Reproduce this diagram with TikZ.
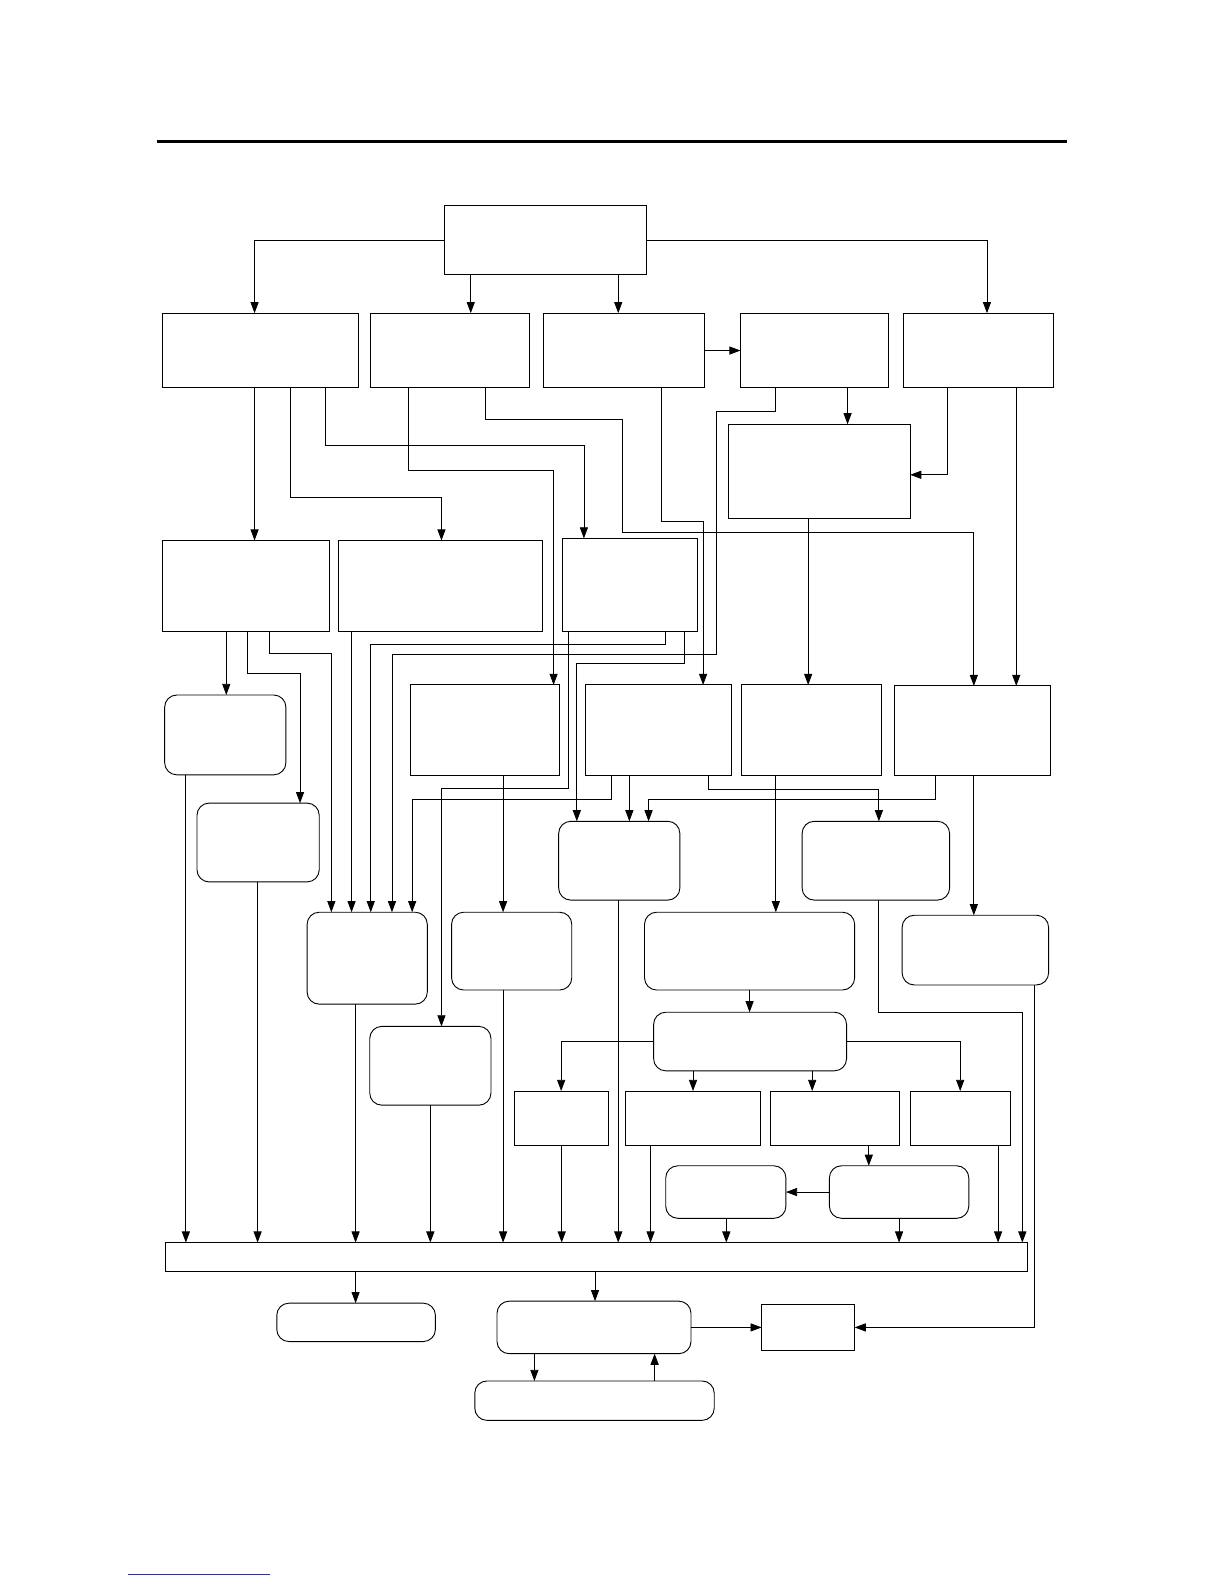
\documentclass[tikz,border=0pt]{standalone}
\usepackage{tikz}
\usetikzlibrary{arrows.meta,positioning,calc}
\usepackage{xcolor}
\definecolor{linkblue}{RGB}{40,40,220}
\tikzset{
  blk/.style={draw=black,fill=white,line width=.9pt,inner sep=0pt,outer sep=0pt},
  rbox/.style={blk,rounded corners=12pt},
  flow/.style={-{Triangle[length=11pt,width=8pt]},draw=black,line width=.8pt},
  rule/.style={draw=black,line width=3pt},
}

\begin{document}
\begin{tikzpicture}[x=1pt,y=-1pt]
  \useasboundingbox (0,0) rectangle (1212,1568);
  \draw[rule] (155,140) -- (1056,140);
  \draw[linkblue,line width=.8pt] (127,1558) -- (267,1558);
  % ---------------- top ----------------
  \node[blk,minimum width=200pt,minimum height=69pt] (top) at (540,237.5) {};
  % ---------------- row 1 ----------------
  \node[blk,minimum width=194pt,minimum height=74pt] (rA) at (258,347)   {};
  \node[blk,minimum width=157pt,minimum height=74pt] (rB) at (445.5,347) {};
  \node[blk,minimum width=159pt,minimum height=74pt] (rC) at (617.5,347) {};
  \node[blk,minimum width=146pt,minimum height=74pt] (rD) at (806,347)   {};
  \node[blk,minimum width=149pt,minimum height=74pt] (rE) at (968.5,347) {};
  \node[blk,minimum width=180pt,minimum height=93pt] (mid) at (811,466.5) {};
  % ---------------- row 2 ----------------
  \node[blk,minimum width=165pt,minimum height=90pt] (sA) at (243.5,580) {};
  \node[blk,minimum width=202pt,minimum height=90pt] (sB) at (436,580)   {};
  \node[blk,minimum width=133pt,minimum height=92pt] (sC) at (623.5,579) {};
  % ---------------- row 3 ----------------
  \node[blk,minimum width=148pt,minimum height=90pt] (tA) at (480,723)   {};
  \node[blk,minimum width=144pt,minimum height=90pt] (tB) at (652,723)   {};
  \node[blk,minimum width=139pt,minimum height=90pt] (tC) at (803.5,723) {};
  \node[blk,minimum width=155pt,minimum height=89pt] (tD) at (962.5,723.5) {};
  % ---------------- rounded boxes ----------------
  \node[rbox,minimum width=120pt,minimum height=79pt] (uA) at (223,727.5) {};
  \node[rbox,minimum width=121pt,minimum height=78pt] (uB) at (255.5,834) {};
  \node[rbox,minimum width=120pt,minimum height=78pt] (uC) at (613,852)   {};
  \node[rbox,minimum width=146pt,minimum height=78pt] (uD) at (867,852)   {};
  \node[rbox,minimum width=119pt,minimum height=91pt] (vA) at (363.5,948.5) {};
  \node[rbox,minimum width=119pt,minimum height=77pt] (vB) at (506.5,941.5) {};
  \node[rbox,minimum width=208pt,minimum height=77pt] (vC) at (742,941.5)   {};
  \node[rbox,minimum width=145pt,minimum height=69pt] (vD) at (965.5,940.5) {};
  \node[rbox,minimum width=120pt,minimum height=78pt] (vE) at (426,1055)    {};
  \node[rbox,minimum width=191pt,minimum height=58pt] (hub) at (742.5,1031) {};
  % ---------------- hub children ----------------
  \node[blk,minimum width=93pt,minimum height=54pt]  (kA) at (555.5,1107) {};
  \node[blk,minimum width=134pt,minimum height=54pt] (kB) at (686,1107)   {};
  \node[blk,minimum width=127pt,minimum height=54pt] (kC) at (826.5,1107) {};
  \node[blk,minimum width=99pt,minimum height=54pt]  (kD) at (950.5,1107) {};
  \node[rbox,minimum width=119pt,minimum height=52pt] (lA) at (718.5,1180) {};
  \node[rbox,minimum width=138pt,minimum height=52pt] (lB) at (890,1180)   {};
  % ---------------- bus and bottom ----------------
  \node[blk,minimum width=853pt,minimum height=29pt] (bus) at (590.5,1244.5) {};
  \node[rbox,minimum width=157pt,minimum height=38pt] (outA) at (352.5,1309) {};
  \node[rbox,minimum width=192pt,minimum height=52pt] (outB) at (588,1314)   {};
  \node[blk,minimum width=92pt,minimum height=46pt]   (outC) at (800,1314)   {};
  \node[rbox,minimum width=237pt,minimum height=39pt] (loop) at (588.5,1386.5) {};
  % ---------------- top edges ----------------
  \draw[flow] (top.west) -| (252,0 |- rA.north);
  \draw[flow] (top.east) -| (977,0 |- rE.north);
  \draw[flow] (466,0 |- top.south) -- (466,0 |- rB.north);
  \draw[flow] (612,0 |- top.south) -- (612,0 |- rC.north);
  \draw[flow] (rC.east) -- (rD.west);
  \draw[flow] (839,0 |- rD.south) -- (839,0 |- mid.north);
  \draw[flow] (938,0 |- rE.south) |- (mid.east |- 0,470);
  % ---------------- row 1 to lower ----------------
  \draw[flow] (252,0 |- rA.south) -- (252,0 |- sA.north);
  \draw[flow] (287,0 |- rA.south) -- (287,492) -| (437,0 |- sB.north);
  \draw[flow] (322,0 |- rA.south) -- (322,441) -| (578,0 |- sC.north);
  \draw[flow] (404,0 |- rB.south) -- (404,466) -| (548,0 |- tA.north);
  \draw[flow] (480,0 |- rB.south) -- (480,415) -- (616,415) -- (616,527)
    -| (964,0 |- tD.north);
  \draw[flow] (655,0 |- rC.south) -- (655,516) -| (696,0 |- tB.north);
  \draw[flow] (768,0 |- rD.south) -- (768,407) -- (709,407) -- (709,648)
    -| (388,0 |- vA.north);
  \draw[flow] (800,0 |- mid.south) -- (800,0 |- tC.north);
  \draw[flow] (1006,0 |- rE.south) -- (1006,0 |- tD.north);
  % ---------------- row 2 to lower ----------------
  \draw[flow] (224,0 |- sA.south) -- (224,0 |- uA.north);
  \draw[flow] (245,0 |- sA.south) -- (245,667) -| (297,0 |- uB.north);
  \draw[flow] (267,0 |- sA.south) -- (267,647) -| (328,0 |- vA.north);
  \draw[flow] (348,0 |- sB.south) -- (348,0 |- vA.north);
  \draw[flow] (563,0 |- sC.south) -- (563,780) -| (437,0 |- vE.north);
  \draw[flow] (659,0 |- sC.south) -- (659,638) -| (367,0 |- vA.north);
  \draw[flow] (677,0 |- sC.south) -- (677,657) -| (571,0 |- uC.north);
  % ---------------- row 3 to lower ----------------
  \draw[flow] (498,0 |- tA.south) -- (498,0 |- vB.north);
  \draw[flow] (605,0 |- tB.south) -- (605,791) -| (408,0 |- vA.north);
  \draw[flow] (623,0 |- tB.south) -- (623,0 |- uC.north);
  \draw[flow] (701,0 |- tB.south) -- (701,781) -| (870,0 |- uD.north);
  \draw[flow] (768,0 |- tC.south) -- (768,0 |- vC.north);
  \draw[flow] (926,0 |- tD.south) -- (926,791) -| (642,0 |- uC.north);
  \draw[flow] (964,0 |- tD.south) -- (964,0 |- vD.north);
  % ---------------- hub ----------------
  \draw[flow] (vC.south) -- (vC.south |- hub.north);
  \draw[flow] (hub.west) -| (kA.north);
  \draw[flow] (hub.east) -| (kD.north);
  \draw[flow] (686,0 |- hub.south) -- (kB.north);
  \draw[flow] (804,0 |- hub.south) -- (804,0 |- kC.north);
  \draw[flow] (860,0 |- kC.south) -- (860,0 |- lB.north);
  \draw[flow] (lB.west) -- (lA.east);
  % ---------------- into bus ----------------
  \foreach \n/\x in {uA/184,uB/255,vA/352,vE/426,vB/498,kA/556,uC/612,
                     kB/644,lA/719,lB/890,kD/988}{
    \draw[flow] (\x,0 |- \n.south) -- (\x,0 |- bus.north);}
  \draw[flow] (870,0 |- uD.south) -- (870,1002) -| (1012,0 |- bus.north);
  \draw[flow] (1024,0 |- vD.south) |- (outC.east);
  % ---------------- bottom ----------------
  \draw[flow] (352,0 |- bus.south) -- (352,0 |- outA.north);
  \draw[flow] (589,0 |- bus.south) -- (589,0 |- outB.north);
  \draw[flow] (outB.east) -- (outC.west);
  \draw[flow] (529,0 |- outB.south) -- (529,0 |- loop.north);
  \draw[flow] (648,0 |- loop.north) -- (648,0 |- outB.south);
\end{tikzpicture}
\end{document}
